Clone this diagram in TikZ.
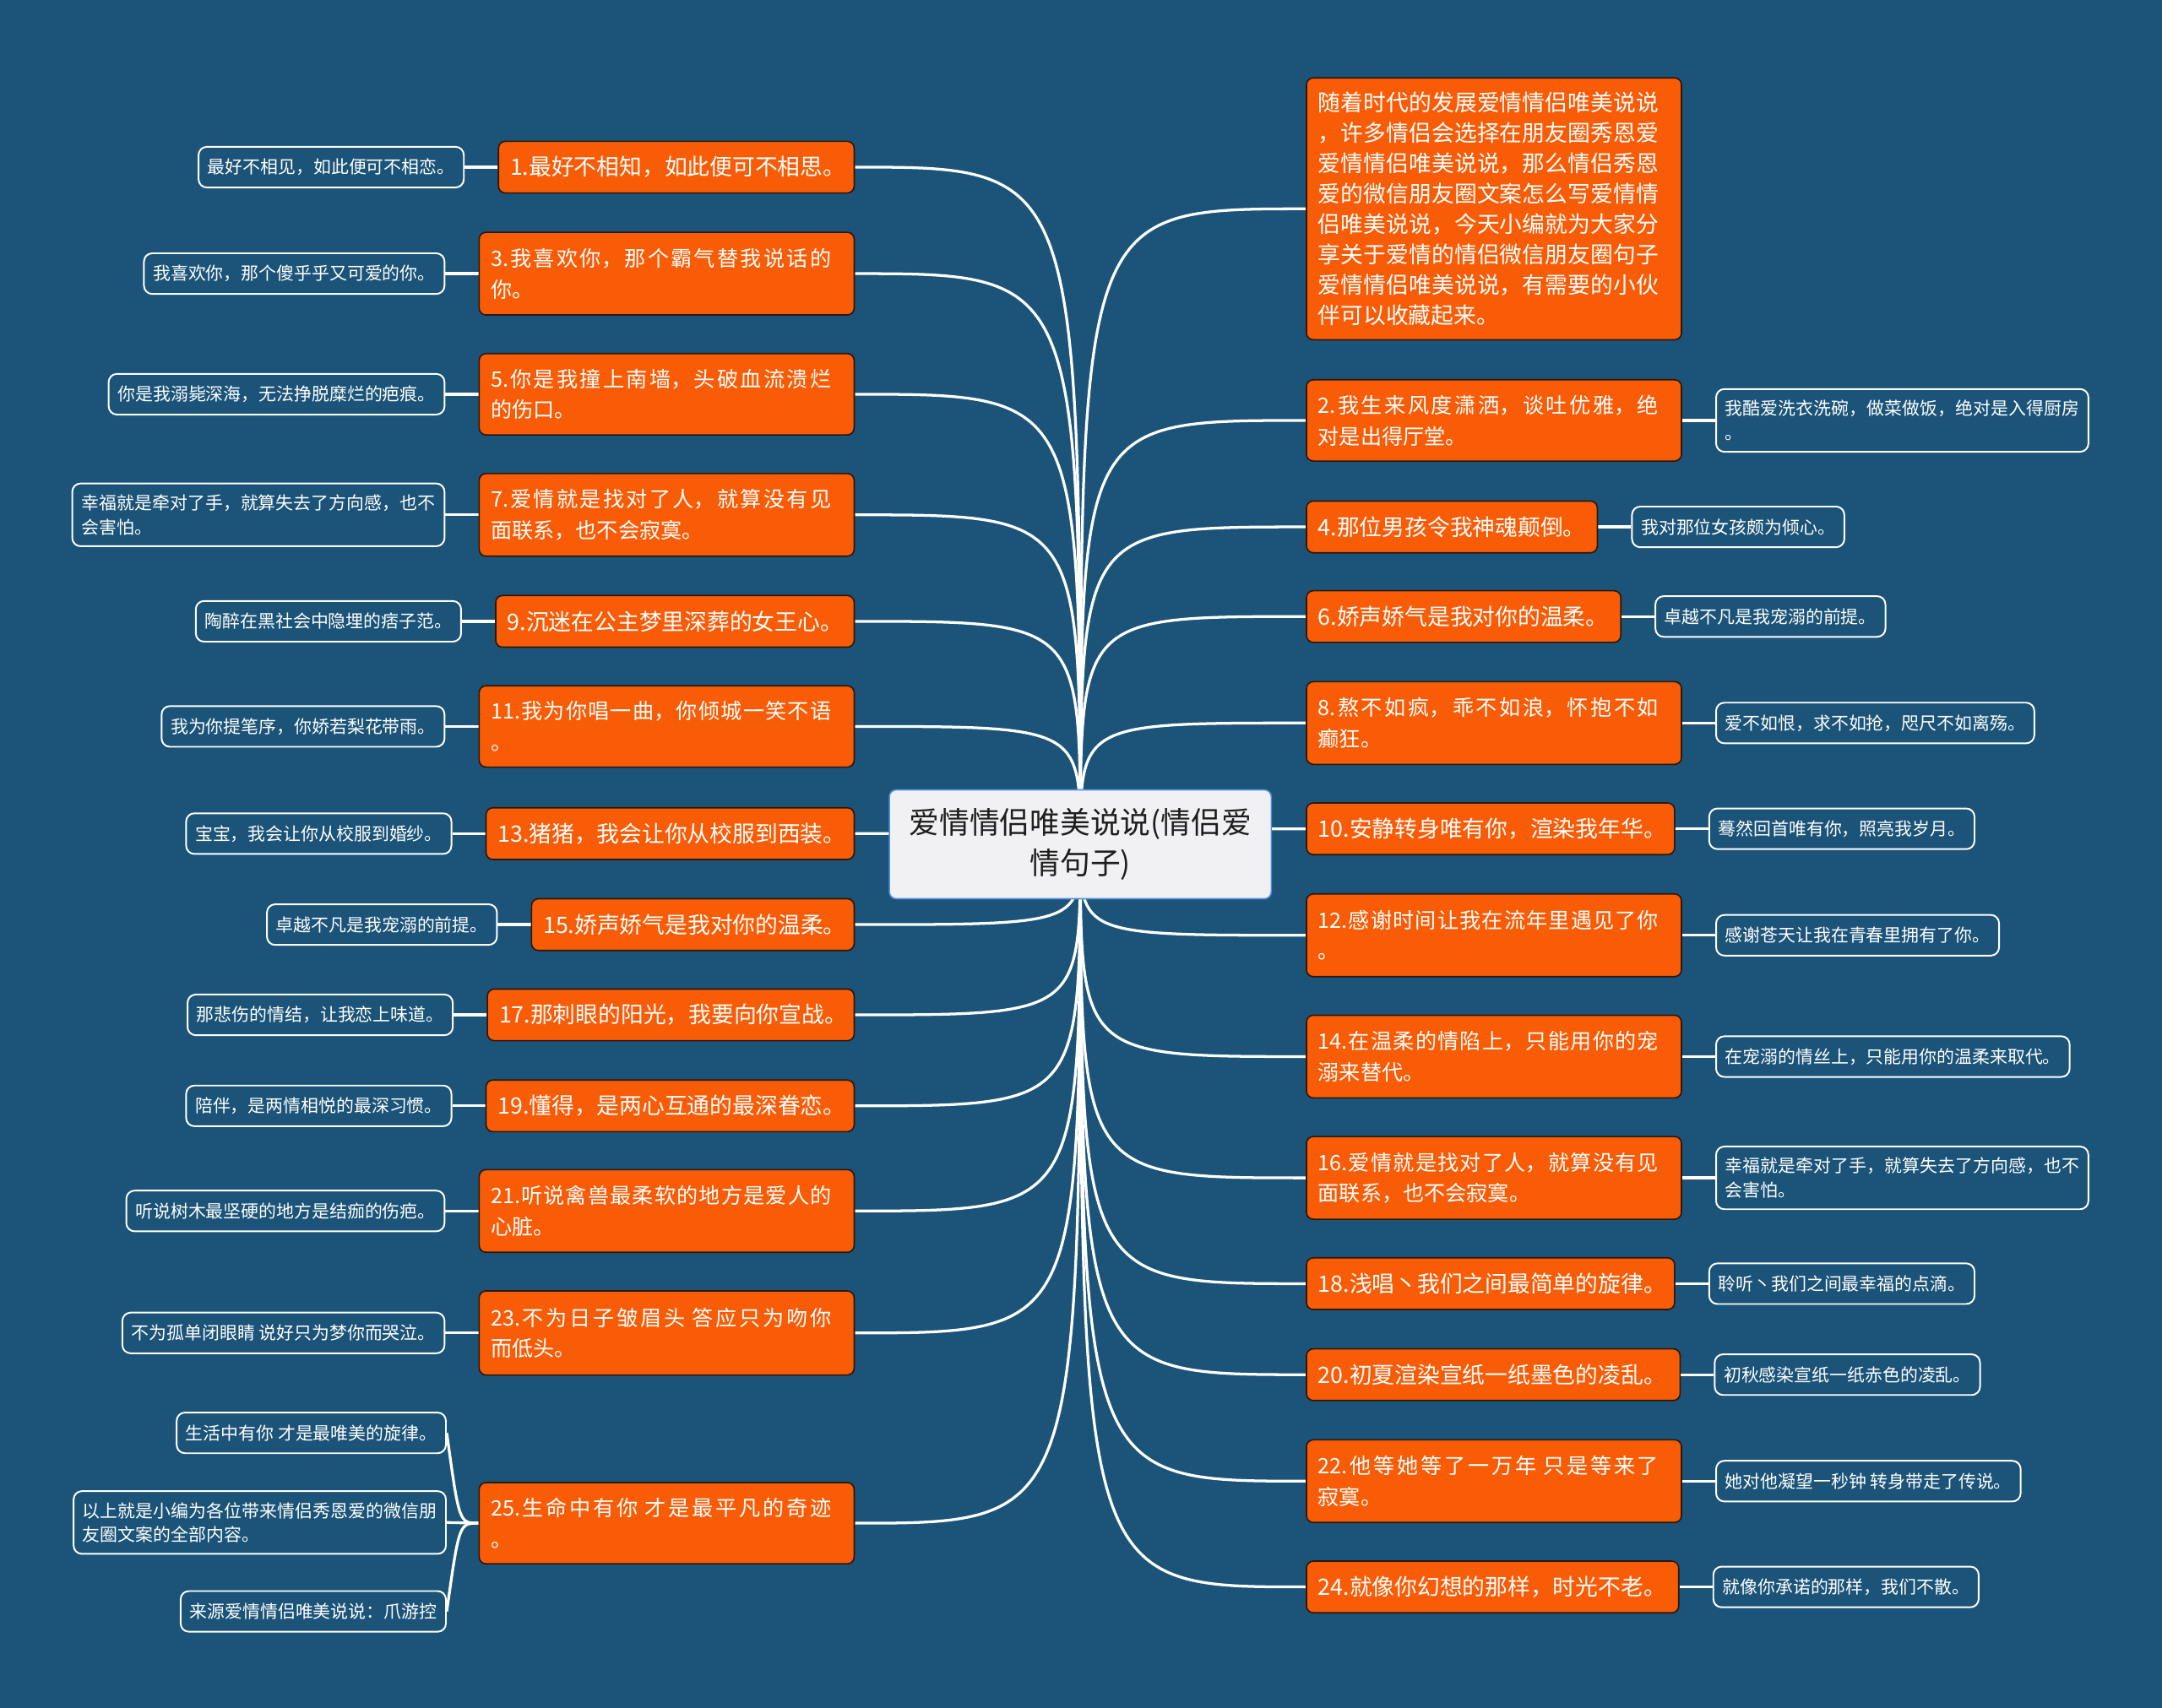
\documentclass[tikz,border=0pt]{standalone}
\usepackage{fontspec}
\setmainfont{Noto Sans CJK SC}
\XeTeXlinebreaklocale "zh"
\XeTeXlinebreakskip=0pt plus 2pt minus 0.4pt
\setlength{\parindent}{0pt}
\usetikzlibrary{calc}
\pgfdeclarelayer{back}
\pgfdeclarelayer{edges}
\pgfsetlayers{back,edges,main}
\definecolor{bgblue}{RGB}{27,84,120}
\definecolor{orng}{RGB}{249,92,6}
\definecolor{obord}{RGB}{45,22,10}
\definecolor{cfill}{RGB}{241,241,243}
\definecolor{cbord}{RGB}{80,145,220}
\definecolor{ctext}{RGB}{30,30,30}
\newcommand{\jt}[1]{\parbox{247pt}{#1}}
\tikzset{
  branch/.style={draw=obord, line width=1pt, fill=orng, rounded corners=5pt,
    text=white, inner xsep=8.5pt, inner ysep=0pt, align=justify,
    font=\fontsize{16.4}{22}\selectfont},
  oneline/.style={minimum height=37.5pt},
  twoline/.style={minimum height=60pt, text width=255pt, minimum width=272pt,
    font=\fontsize{15.4}{22.5}\selectfont},
  leaf/.style={draw=white, line width=1.2pt, fill=bgblue, rounded corners=6pt,
    text=white, inner xsep=6.6pt, inner ysep=0pt, minimum height=29.5pt,
    font=\fontsize{12.8}{17.5}\selectfont},
  leaftwo/.style={text width=256.8pt, align=justify, minimum height=45.5pt},
  centernode/.style={draw=cbord, line width=1pt, fill=cfill, rounded corners=5pt,
    text=ctext, align=center, inner sep=0pt, font=\fontsize{21.9}{29}\selectfont},
  conn/.style={draw=white, line width=2pt},
}
\begin{document}
\begin{tikzpicture}[x=1pt,y=-1pt]
\useasboundingbox (0,0) rectangle (1568,1239);
\begin{pgfonlayer}{back}
\fill[bgblue] (0,0) rectangle (1568,1239);
\end{pgfonlayer}

% centre
\node[centernode, minimum width=277pt, minimum height=79pt] (c) at (783.5,612.5)
  {爱情情侣唯美说说(情侣爱\\情句子)};

% left branches
\node[branch, oneline, anchor=north east, minimum width=258pt, text width=241pt] (b1) at (620,102) {\mbox{1.最好不相知，如此便可不相思。}};
\node[branch, twoline, anchor=north east] (b3) at (620,168) {\jt{3.我喜欢你，那个霸气替我说话的\linebreak 你。}};
\node[branch, twoline, anchor=north east, minimum height=59pt] (b5) at (620,256) {\jt{5.你是我撞上南墙，头破血流溃烂\linebreak 的伤口。}};
\node[branch, twoline, anchor=north east] (b7) at (620,343) {\jt{7.爱情就是找对了人，就算没有见\linebreak 面联系，也不会寂寞。}};
\node[branch, oneline, anchor=north east, minimum width=260pt, text width=243pt] (b9) at (620,431.5) {\mbox{9.沉迷在公主梦里深葬的女王心。}};
\node[branch, twoline, anchor=north east, minimum height=59pt] (b11) at (620,497) {\jt{11.我为你唱一曲，你倾城一笑不语\linebreak 。}};
\node[branch, oneline, anchor=north east, minimum width=267pt, text width=250pt] (b13) at (620,585.5) {\mbox{13.猪猪，我会让你从校服到西装。}};
\node[branch, oneline, anchor=north east, minimum width=234pt, text width=217pt] (b15) at (620,651.5) {\mbox{15.娇声娇气是我对你的温柔。}};
\node[branch, oneline, anchor=north east, minimum width=266pt, text width=249pt] (b17) at (620,717) {\mbox{17.那刺眼的阳光，我要向你宣战。}};
\node[branch, oneline, anchor=north east, minimum width=267pt, text width=250pt] (b19) at (620,783) {\mbox{19.懂得，是两心互通的最深眷恋。}};
\node[branch, twoline, anchor=north east] (b21) at (620,848) {\jt{21.听说禽兽最柔软的地方是爱人的\linebreak 心脏。}};
\node[branch, twoline, anchor=north east, minimum height=61pt] (b23) at (620,936) {\jt{23.不为日子皱眉头~答应只为吻你\linebreak 而低头。}};
\node[branch, twoline, anchor=north east, minimum height=59pt] (b25) at (620,1075) {\jt{25.生命中有你~才是最平凡的奇迹\linebreak 。}};

% right branches
\node[branch, anchor=north west, minimum width=272pt, text width=255pt, minimum height=190pt] (intro) at (947,56)
  {\jt{随着时代的发展爱情情侣唯美说说\linebreak ，许多情侣会选择在朋友圈秀恩爱\linebreak 爱情情侣唯美说说，那么情侣秀恩\linebreak 爱的微信朋友圈文案怎么写爱情情\linebreak 侣唯美说说，今天小编就为大家分\linebreak 享关于爱情的情侣微信朋友圈句子\linebreak 爱情情侣唯美说说，有需要的小伙\linebreak 伴可以收藏起来。}};
\node[branch, twoline, anchor=north west, minimum height=59pt] (b2) at (947,275) {\jt{2.我生来风度潇洒，谈吐优雅，绝\linebreak 对是出得厅堂。}};
\node[branch, oneline, anchor=north west, minimum width=211pt, text width=194pt] (b4) at (947,363) {\mbox{4.那位男孩令我神魂颠倒。}};
\node[branch, oneline, anchor=north west, minimum width=228pt, text width=211pt] (b6) at (947,428) {\mbox{6.娇声娇气是我对你的温柔。}};
\node[branch, twoline, anchor=north west] (b8) at (947,494) {\jt{8.熬不如疯，乖不如浪，怀抱不如\linebreak 癫狂。}};
\node[branch, oneline, anchor=north west, minimum width=267pt, text width=250pt] (b10) at (947,582) {\mbox{10.安静转身唯有你，渲染我年华。}};
\node[branch, twoline, anchor=north west] (b12) at (947,648) {\jt{12.感谢时间让我在流年里遇见了你\linebreak 。}};
\node[branch, twoline, anchor=north west] (b14) at (947,736) {\jt{14.在温柔的情陷上，只能用你的宠\linebreak 溺来替代。}};
\node[branch, twoline, anchor=north west] (b16) at (947,824) {\jt{16.爱情就是找对了人，就算没有见\linebreak 面联系，也不会寂寞。}};
\node[branch, oneline, anchor=north west, minimum width=267pt, text width=250pt] (b18) at (947,912) {\mbox{18.浅唱丶我们之间最简单的旋律。}};
\node[branch, oneline, anchor=north west, minimum width=271pt, text width=254pt] (b20) at (947,978) {\mbox{20.初夏渲染宣纸一纸墨色的凌乱。}};
\node[branch, twoline, anchor=north west] (b22) at (947,1044) {\jt{22.他等她等了一万年~只是等来了\linebreak 寂寞。}};
\node[branch, oneline, anchor=north west, minimum width=270pt, text width=253pt] (b24) at (947,1132) {\mbox{24.就像你幻想的那样，时光不老。}};

% left leaves
\node[leaf, anchor=east] (l1) at ([xshift=-24pt]b1.west) {最好不相见，如此便可不相恋。};
\node[leaf, anchor=east] (l3) at ([xshift=-24pt]b3.west) {我喜欢你，那个傻乎乎又可爱的你。};
\node[leaf, anchor=east] (l5) at ([xshift=-24pt]b5.west) {你是我溺毙深海，无法挣脱糜烂的疤痕。};
\node[leaf, leaftwo, anchor=east] (l7) at ([xshift=-24pt]b7.west) {幸福就是牵对了手，就算失去了方向感，也不\linebreak 会害怕。};
\node[leaf, anchor=east] (l9) at ([xshift=-24pt]b9.west) {陶醉在黑社会中隐埋的痞子范。};
\node[leaf, anchor=east] (l11) at ([xshift=-24pt]b11.west) {我为你提笔序，你娇若梨花带雨。};
\node[leaf, anchor=east] (l13) at ([xshift=-24pt]b13.west) {宝宝，我会让你从校服到婚纱。};
\node[leaf, anchor=east] (l15) at ([xshift=-24pt]b15.west) {卓越不凡是我宠溺的前提。};
\node[leaf, anchor=east] (l17) at ([xshift=-24pt]b17.west) {那悲伤的情结，让我恋上味道。};
\node[leaf, anchor=east] (l19) at ([xshift=-24pt]b19.west) {陪伴，是两情相悦的最深习惯。};
\node[leaf, anchor=east] (l21) at ([xshift=-24pt]b21.west) {听说树木最坚硬的地方是结痂的伤疤。};
\node[leaf, anchor=east] (l23) at ([xshift=-24pt]b23.west) {不为孤单闭眼睛~说好只为梦你而哭泣。};
\node[leaf, anchor=east] (l25a) at (324,1039.5) {生活中有你~才是最唯美的旋律。};
\node[leaf, leaftwo, anchor=east] (l25b) at (324,1104.5) {以上就是小编为各位带来情侣秀恩爱的微信朋\linebreak 友圈文案的全部内容。};
\node[leaf, anchor=east] (l25c) at (324,1169) {来源爱情情侣唯美说说：爪游控};

% right leaves
\node[leaf, leaftwo, anchor=west] (l2) at ([xshift=24pt]b2.east) {我酷爱洗衣洗碗，做菜做饭，绝对是入得厨房\linebreak 。};
\node[leaf, anchor=west] (l4) at ([xshift=24pt]b4.east) {我对那位女孩颇为倾心。};
\node[leaf, anchor=west] (l6) at ([xshift=24pt]b6.east) {卓越不凡是我宠溺的前提。};
\node[leaf, anchor=west] (l8) at ([xshift=24pt]b8.east) {爱不如恨，求不如抢，咫尺不如离殇。};
\node[leaf, anchor=west] (l10) at ([xshift=24pt]b10.east) {蓦然回首唯有你，照亮我岁月。};
\node[leaf, anchor=west] (l12) at ([xshift=24pt]b12.east) {感谢苍天让我在青春里拥有了你。};
\node[leaf, anchor=west] (l14) at ([xshift=24pt]b14.east) {在宠溺的情丝上，只能用你的温柔来取代。};
\node[leaf, leaftwo, anchor=west] (l16) at ([xshift=24pt]b16.east) {幸福就是牵对了手，就算失去了方向感，也不\linebreak 会害怕。};
\node[leaf, anchor=west] (l18) at ([xshift=24pt]b18.east) {聆听丶我们之间最幸福的点滴。};
\node[leaf, anchor=west] (l20) at ([xshift=24pt]b20.east) {初秋感染宣纸一纸赤色的凌乱。};
\node[leaf, anchor=west] (l22) at ([xshift=24pt]b22.east) {她对他凝望一秒钟~转身带走了传说。};
\node[leaf, anchor=west] (l24) at ([xshift=24pt]b24.east) {就像你承诺的那样，我们不散。};

% connectors
\begin{pgfonlayer}{edges}
\foreach \b in {b1,b3,b5,b7,b9,b11,b13,b15,b17,b19,b21,b23,b25}
  \draw[conn] (c.center) .. controls (c.center |- \b.east) .. (\b.east);
\foreach \b in {intro,b2,b4,b6,b8,b10,b12,b14,b16,b18,b20,b22,b24}
  \draw[conn] (c.center) .. controls (c.center |- \b.west) .. (\b.west);
\foreach \b/\l in {b1/l1,b3/l3,b5/l5,b7/l7,b9/l9,b11/l11,b13/l13,b15/l15,b17/l17,b19/l19,b21/l21,b23/l23,b25/l25b}
  \draw[conn] (\b.west) -- (\l.east);
\foreach \b/\l in {b2/l2,b4/l4,b6/l6,b8/l8,b10/l10,b12/l12,b14/l14,b16/l16,b18/l18,b20/l20,b22/l22,b24/l24}
  \draw[conn] (\b.east) -- (\l.west);
\draw[conn] (b25.west) .. controls ([xshift=-14pt]b25.west) .. (l25a.east);
\draw[conn] (b25.west) .. controls ([xshift=-14pt]b25.west) .. (l25c.east);
\end{pgfonlayer}
\end{tikzpicture}
\end{document}
